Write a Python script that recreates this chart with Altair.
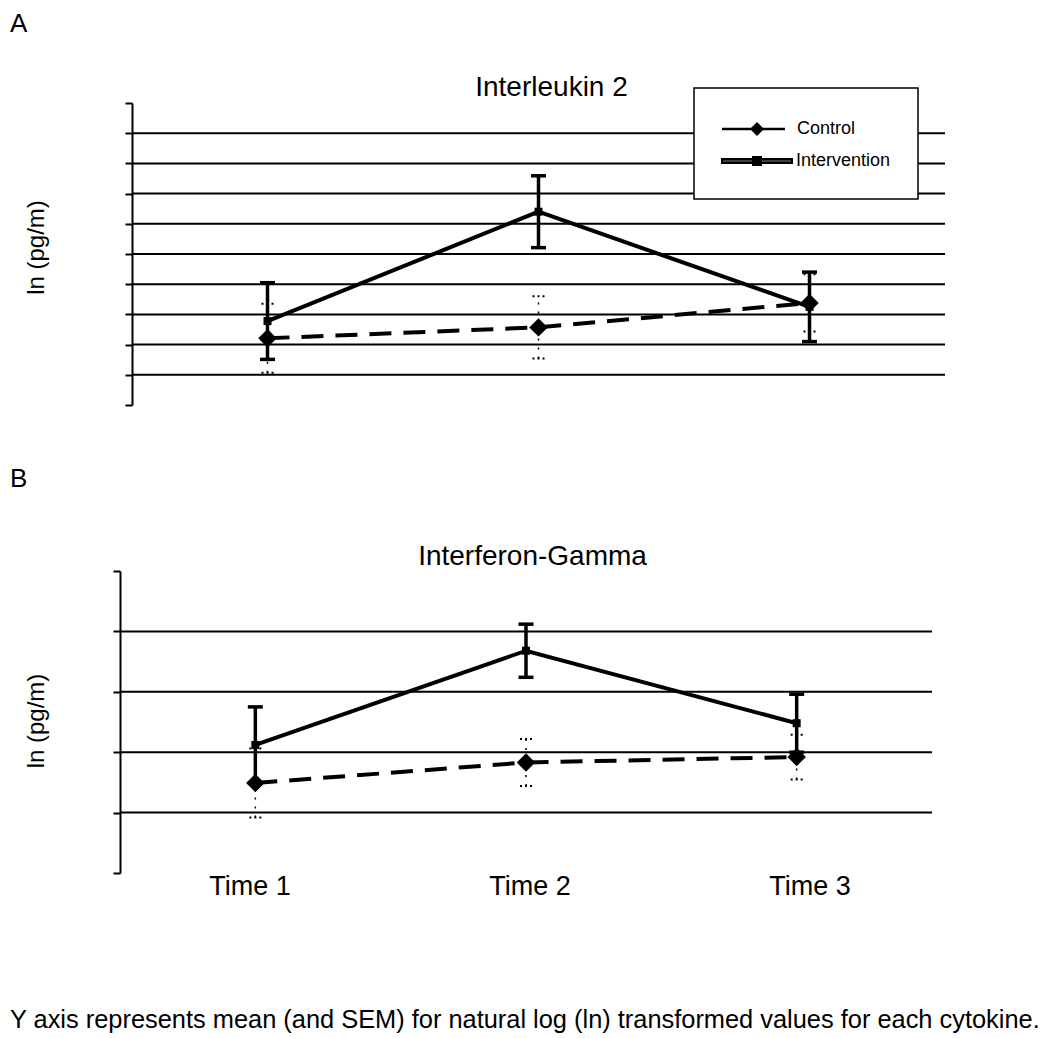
import altair as alt
import pandas as pd

# ---------------- data ----------------
times = ["Time 1", "Time 2", "Time 3"]
series = ["Control", "Intervention"]

il2_control_mean = [2.21, 2.57, 3.38]
il2_control_sem = [1.14, 1.03, 0.95]
il2_interv_mean = [2.78, 6.40, 3.25]
il2_interv_sem = [1.27, 1.19, 1.15]

ifng_control_mean = [1.49, 1.83, 1.92]
ifng_control_sem = [0.57, 0.39, 0.37]
ifng_interv_mean = [2.12, 3.68, 2.48]
ifng_interv_sem = [0.63, 0.44, 0.48]

panel_letters = ["A", "B"]
panel_titles = ["Interleukin 2", "Interferon-Gamma"]
y_title = "ln (pg/m)"
footnote = "Y axis represents mean (and SEM) for natural log (ln) transformed values for each cytokine."

il2_ticks = list(range(0, 11))
il2_grid = list(range(1, 10))
ifng_ticks = list(range(0, 6))
ifng_grid = list(range(1, 5))

FONT = "Liberation Sans"


def stats(means, sems):
    return pd.DataFrame({
        "time": times,
        "mean": means,
        "lo": [m - s for m, s in zip(means, sems)],
        "hi": [m + s for m, s in zip(means, sems)],
    })


def caps(means, sems):
    rows = []
    for t, m, s in zip(times, means, sems):
        rows.append({"time": t, "v": m - s})
        rows.append({"time": t, "v": m + s})
    return pd.DataFrame(rows)


def one(**kw):
    return pd.DataFrame({k: [v] for k, v in kw.items()})


def text_layer(txt, x, y, size, align="left", baseline="middle", angle=0):
    props = dict(font=FONT, fontSize=size, align=align, baseline=baseline, color="black")
    if angle:
        props["angle"] = angle
    return alt.Chart(one(t=txt)).mark_text(**props).encode(
        text="t:N", x=alt.value(x), y=alt.value(y))


def anchor(x, y):
    return alt.Chart(one(a=0)).mark_rect(color="white", opacity=1).encode(
        x=alt.value(x), x2=alt.value(x + 1), y=alt.value(y), y2=alt.value(y + 1))


def panel(cm, cs, im, isem, ymax, ticks, grid, width, height, xrange, grid_x0,
          axis_offset):
    xs = alt.Scale(type="point", domain=times, range=xrange, padding=0.5)
    ys = alt.Scale(domain=[0, ymax], nice=False, zero=True)
    X = alt.X("time:N", scale=xs, axis=None)
    yaxis = alt.Axis(values=ticks, labels=False, title=None, grid=False,
                     ticks=True, tickSize=7, tickWidth=2, tickColor="black",
                     domainColor="black", domainWidth=2, offset=axis_offset)

    gridl = alt.Chart(pd.DataFrame({"g": grid})).mark_rule(
        color="black", strokeWidth=2).encode(
        y=alt.Y("g:Q", scale=ys, axis=yaxis),
        x=alt.value(grid_x0), x2=alt.value(width))

    c = stats(cm, cs)
    i = stats(im, isem)

    c_bar = alt.Chart(c).mark_rule(color="black", strokeWidth=1.5,
                                   strokeDash=[2, 7]).encode(
        x=X, y=alt.Y("lo:Q", scale=ys, axis=yaxis), y2="hi:Q")
    c_cap = alt.Chart(caps(cm, cs)).mark_point(
        shape="M-1,0L1,0", size=144, filled=False, stroke="black",
        strokeWidth=2, strokeDash=[2, 3], opacity=1).encode(
        x=X, y=alt.Y("v:Q", scale=ys, axis=yaxis))

    i_bar = alt.Chart(i).mark_rule(color="black", strokeWidth=3.5).encode(
        x=X, y=alt.Y("lo:Q", scale=ys, axis=yaxis), y2="hi:Q")
    i_cap = alt.Chart(caps(im, isem)).mark_point(
        shape="M-1,0L1,0", size=225, filled=False, stroke="black",
        strokeWidth=3.5, opacity=1).encode(
        x=X, y=alt.Y("v:Q", scale=ys, axis=yaxis))

    i_line = alt.Chart(i).mark_line(color="black", strokeWidth=4).encode(
        x=X, y=alt.Y("mean:Q", scale=ys, axis=yaxis))
    c_line = alt.Chart(c).mark_line(color="black", strokeWidth=4,
                                    strokeDash=[22, 12]).encode(
        x=X, y=alt.Y("mean:Q", scale=ys, axis=yaxis))

    i_pt = alt.Chart(i).mark_point(shape="square", size=64, filled=True,
                                   color="black", opacity=1).encode(
        x=X, y=alt.Y("mean:Q", scale=ys, axis=yaxis))
    c_pt = alt.Chart(c).mark_point(shape="diamond", size=340, filled=True,
                                   color="black", opacity=1).encode(
        x=X, y=alt.Y("mean:Q", scale=ys, axis=yaxis))

    return [gridl, c_bar, c_cap, i_bar, i_cap, i_line, c_line, i_pt, c_pt]


# ---------------- panel A ----------------
WA, HA = 825, 302
layers_a = panel(il2_control_mean, il2_control_sem, il2_interv_mean,
                 il2_interv_sem, 10, il2_ticks, il2_grid, WA, HA,
                 [12, WA], 12, -12)

legend_box = alt.Chart(one(a=0)).mark_rect(
    fill="white", stroke="black", strokeWidth=1.5).encode(
    x=alt.value(574), x2=alt.value(798), y=alt.value(-15), y2=alt.value(96))
leg_c_line = alt.Chart(one(a=0)).mark_rule(color="black", strokeWidth=2.5).encode(
    x=alt.value(602), x2=alt.value(665), y=alt.value(26))
leg_c_pt = alt.Chart(one(a=0)).mark_point(shape="diamond", size=196, filled=True,
                                          color="black", opacity=1).encode(
    x=alt.value(637), y=alt.value(26))
leg_i_line = alt.Chart(one(a=0)).mark_rule(color="black", strokeWidth=6).encode(
    x=alt.value(601), x2=alt.value(673), y=alt.value(58))
leg_i_inner = alt.Chart(one(a=0)).mark_rule(color="#555555", strokeWidth=1.5).encode(
    x=alt.value(603), x2=alt.value(671), y=alt.value(58))
leg_i_pt = alt.Chart(one(a=0)).mark_point(shape="square", size=100, filled=True,
                                          color="black", opacity=1).encode(
    x=alt.value(637), y=alt.value(58))
leg_c_txt = text_layer(series[0], 677, 26, 18)
leg_i_txt = text_layer(series[1], 676, 58, 18)

panel_a = alt.layer(
    anchor(-112, -95), anchor(-112, 322),
    *layers_a[:1],
    legend_box, leg_c_line, leg_c_pt, leg_i_line, leg_i_inner, leg_i_pt,
    leg_c_txt, leg_i_txt,
    *layers_a[1:],
    text_layer(panel_letters[0], -110, -92, 26, baseline="top"),
    text_layer(panel_titles[0], 431.5, -15.5, 28, align="center"),
    text_layer(y_title, -83, 144.5, 24, align="center", angle=270),
).properties(width=WA, height=HA)

# ---------------- panel B ----------------
WB, HB = 812, 302
layers_b = panel(ifng_control_mean, ifng_control_sem, ifng_interv_mean,
                 ifng_interv_sem, 5, ifng_ticks, ifng_grid, WB, HB,
                 [0, WB], 0, 0)

time_labels = alt.Chart(pd.DataFrame({"time": times})).mark_text(
    font=FONT, fontSize=27, align="center", baseline="middle", color="black").encode(
    x=alt.X("time:N", scale=alt.Scale(type="point", domain=times,
                                      range=[-10, 830], padding=0.5), axis=None),
    y=alt.value(316), text="time:N")

panel_b = alt.layer(
    anchor(-112, -126),
    *layers_b,
    time_labels,
    text_layer(panel_letters[1], -110, -84, 26, baseline="alphabetic"),
    text_layer(panel_titles[1], 412.5, -14.5, 28, align="center"),
    text_layer(y_title, -83, 150, 24, align="center", angle=270),
    text_layer(footnote, -110, 449, 25.4),
).resolve_scale(x="independent").properties(width=WB, height=HB)

chart = alt.vconcat(panel_a, panel_b, spacing=19).properties(
    padding=0).configure(font=FONT).configure_view(
    strokeWidth=0, strokeOpacity=0)

chart.save("out.html", embed_options={"renderer": "svg", "actions": False})
